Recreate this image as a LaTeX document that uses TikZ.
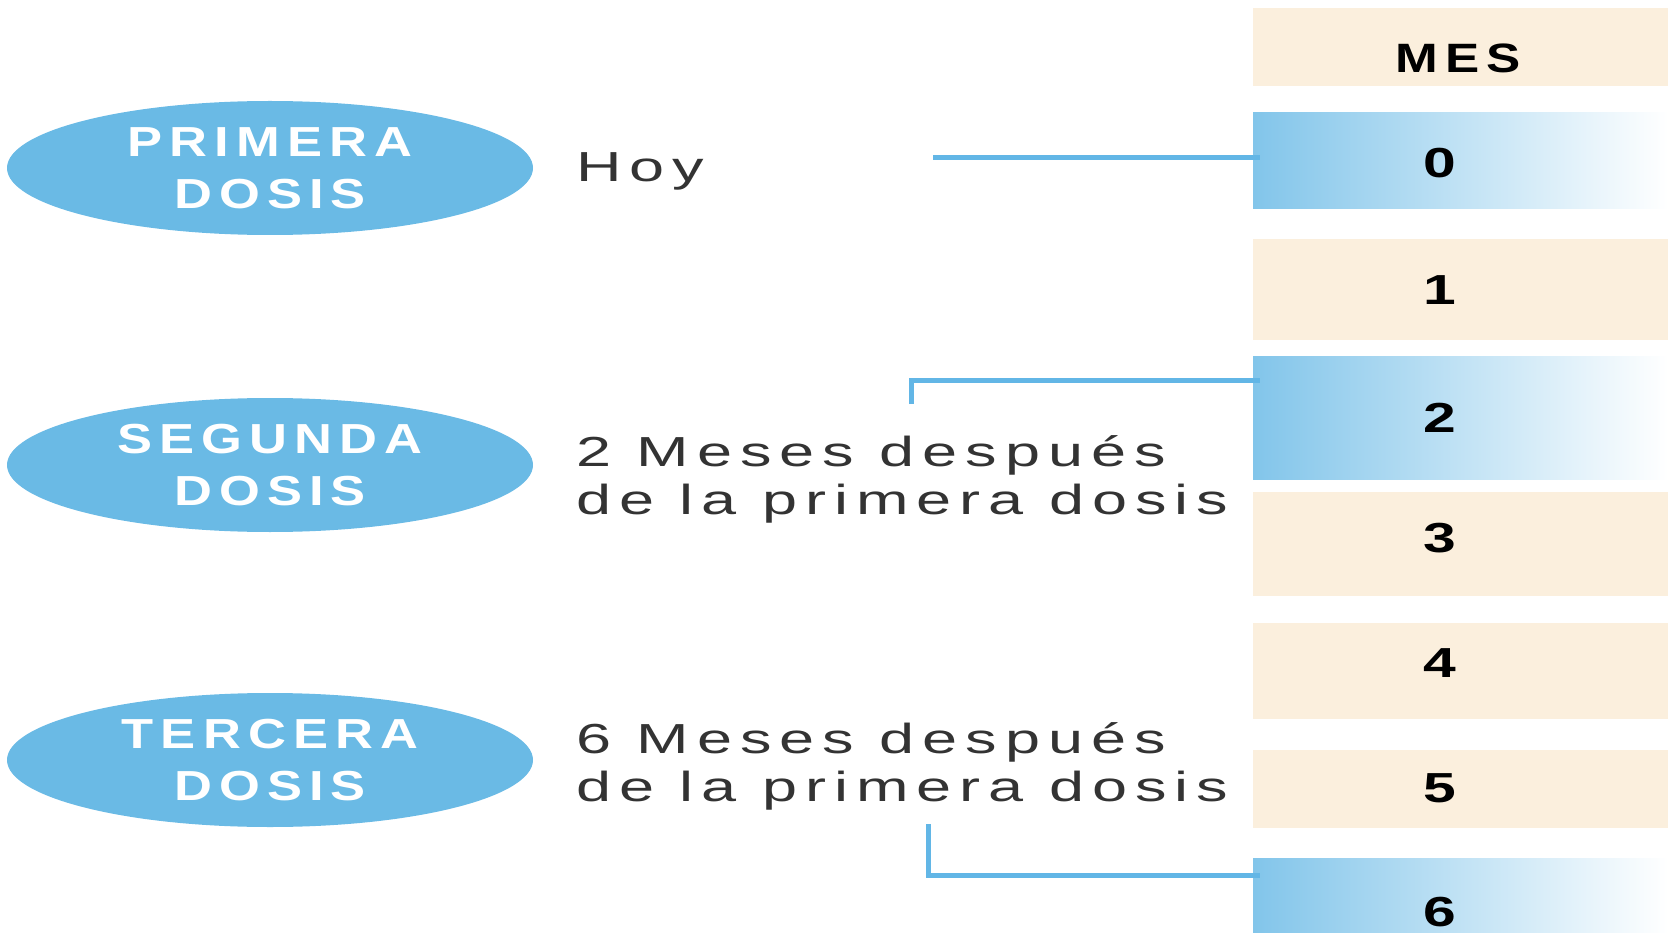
\documentclass[tikz,border=0pt]{standalone}
\usepackage{fontspec}
\usetikzlibrary{shapes.geometric}

\setmainfont{Liberation Sans}
\newfontfamily\dosefont[FakeStretch=1.25,LetterSpace=17]{Liberation Sans}
\newfontfamily\notefont[FakeStretch=1.5,LetterSpace=19]{Liberation Sans}
\newfontfamily\numfont[FakeStretch=1.4]{Liberation Sans}

\definecolor{dosisblue}{RGB}{106,186,229}
\definecolor{linkblue}{RGB}{98,182,230}
\definecolor{mescream}{RGB}{251,239,221}
\definecolor{mesblue}{RGB}{130,197,234}
\definecolor{textgray}{RGB}{51,51,51}

\tikzset{
	dose/.style={ellipse, fill=dosisblue, minimum width=526pt, minimum height=134pt, inner sep=0pt, text=white, align=center, font=\dosefont\bfseries\fontsize{42}{52}\selectfont},
	note/.style={text=textgray, inner sep=0pt, align=left, font=\notefont\fontsize{42}{48}\selectfont},
	month/.style={rectangle, minimum width=415pt, inner sep=0pt},
	cream/.style={month, fill=mescream},
	dosebox/.style={month, left color=mesblue, right color=white},
	link/.style={draw=linkblue, line width=5pt, shorten >=-7pt}
}

\begin{document}
\begin{tikzpicture}[x=1pt, y=-1pt]
		\useasboundingbox (0,0) rectangle (1671,933);
		\clip (0,0) rectangle (1671,933);
		
		%month column
		\node[cream, minimum height=78pt] (mes) at (1460.5,47) {};
		\node[inner sep=0pt, font=\dosefont\bfseries\fontsize{41}{48}\selectfont] (mestext) at (1458,58) {MES};
		\foreach \n/\y/\h/\kind in {0/161/96/dosebox, 1/289.5/101/cream, 2/418/122/dosebox, 3/544/104/cream, 4/671/96/cream, 5/789/78/cream, 6/912/108/dosebox}{
			\node[\kind, minimum height=\h pt] (m\n) at (1460.5,\y) {};
		}
		\foreach \n/\y in {0/163, 1/290, 2/418, 3/538, 4/663, 5/788, 6/912}{
			\node[font=\numfont\bfseries\fontsize{42}{48}\selectfont, inner sep=0pt] (n\n) at (1440,\y) {\n};
		}
		
		%doses
		\node[dose] (primera) at (270,168) {PRIMERA\\DOSIS};
		\node[dose] (segunda) at (270,465) {SEGUNDA\\DOSIS};
		\node[dose] (tercera) at (270,760) {TERCERA\\DOSIS};
		
		\node[note, anchor=base west] (hoy) at (576,182) {Hoy};
		\node[note, anchor=north west] (dosmeses) at (576,435) {2 Meses después\\de la primera dosis};
		\node[note, anchor=north west] (seismeses) at (576,722) {6 Meses después\\de la primera dosis};
		
		%links
		\coordinate (c0) at (933,158);
		\coordinate (c2) at (911,404);
		\coordinate (c6) at (928,824);
		\draw[link] (c0) -- (c0 -| m0.west);
		\draw[link] (c2) |- ([yshift=-24pt]m2.north west);
		\draw[link] (c6) |- ([yshift=-18pt]m6.north west);
\end{tikzpicture}
\end{document}
